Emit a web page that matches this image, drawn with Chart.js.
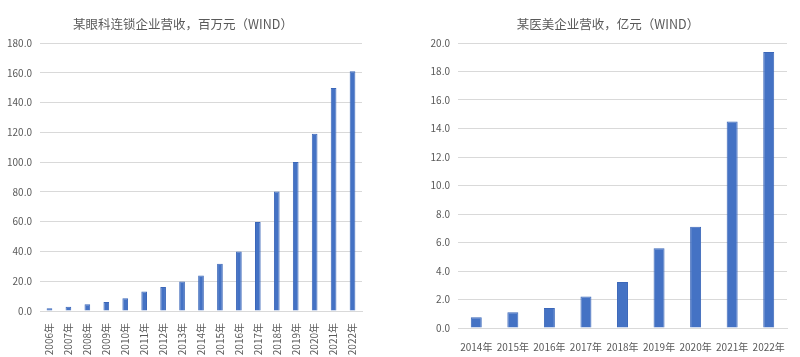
<!DOCTYPE html>
<html><head><meta charset="utf-8">
<script src="https://cdn.jsdelivr.net/npm/chart.js@4/dist/chart.umd.min.js"></script>
<style>
html,body{margin:0;padding:0;background:#fff;}
.wrap{position:absolute;top:0;width:400px;height:357px;}
</style></head>
<body>
<div class="wrap" style="left:0"><canvas id="c1"></canvas></div>
<div class="wrap" style="left:400px"><canvas id="c2"></canvas></div>
<script>
const titleA = '某眼科连锁企业营收，百万元（WIND）';
const yearsA = ['2006年','2007年','2008年','2009年','2010年','2011年','2012年','2013年','2014年','2015年','2016年','2017年','2018年','2019年','2020年','2021年','2022年'];
const revenueA = [1.8,2.9,4.5,6.1,8.6,13.1,16.2,19.8,23.9,31.8,39.9,59.8,80.2,100.0,119.0,149.8,161.0];

const titleB = '某医美企业营收，亿元（WIND）';
const yearsB = ['2014年','2015年','2016年','2017年','2018年','2019年','2020年','2021年','2022年'];
const revenueB = [0.75,1.1,1.41,2.21,3.22,5.6,7.1,14.5,19.37];

const FONT = "'Noto Sans CJK SC', 'Noto Sans', sans-serif";
const GRAY = '#595959';

function make(id, labels, data, title, opts) {
  return new Chart(document.getElementById(id), {
    type: 'bar',
    data: { labels, datasets: [{ data, backgroundColor: '#4472C4', borderColor: '#3B67B9', borderWidth: 1, barPercentage: opts.bar, categoryPercentage: 1 }] },
    options: {
      responsive: true, maintainAspectRatio: false, animation: false,
      layout: { padding: { top: opts.top, left: opts.left, right: opts.right, bottom: 0 } },
      plugins: { legend: { display: false }, tooltip: { enabled: false }, title: { display: false } },
      scales: {
        x: {
          grid: { display: false },
          border: { color: '#D9D9D9' },
          ticks: { color: GRAY, font: { family: FONT, size: 10 }, autoSkip: false, minRotation: opts.rot, maxRotation: opts.rot, padding: opts.rot ? 4 : 5 },
          afterFit: s => { s.height = opts.xh; }
        },
        y: {
          min: 0, max: opts.max,
          border: { display: false },
          grid: { color: '#D9D9D9', drawTicks: false },
          ticks: { stepSize: opts.step, color: GRAY, font: { family: FONT, size: 10 }, padding: 8, callback: v => Number(v).toFixed(1) },
          afterFit: s => { s.width = opts.yw; }
        }
      }
    },
    plugins: [{
      id: 'ttl',
      afterDraw(chart) {
        const ctx = chart.ctx;
        ctx.save();
        ctx.fillStyle = GRAY;
        ctx.font = '12.5px ' + FONT;
        ctx.textAlign = 'center';
        ctx.textBaseline = 'middle';
        ctx.fillText(title, opts.tx, 24);
        ctx.restore();
      }
    }]
  });
}

make('c1', yearsA, revenueA, titleA, { bar: 0.3, top: 43, left: 0, right: 38, xh: 46, yw: 40, max: 180, step: 20, rot: 90, tx: 183 });
make('c2', yearsB, revenueB, titleB, { bar: 0.3, top: 43, left: 0, right: 13, xh: 29, yw: 58, max: 20, step: 2, rot: 0, tx: 208 });
</script>
</body></html>
